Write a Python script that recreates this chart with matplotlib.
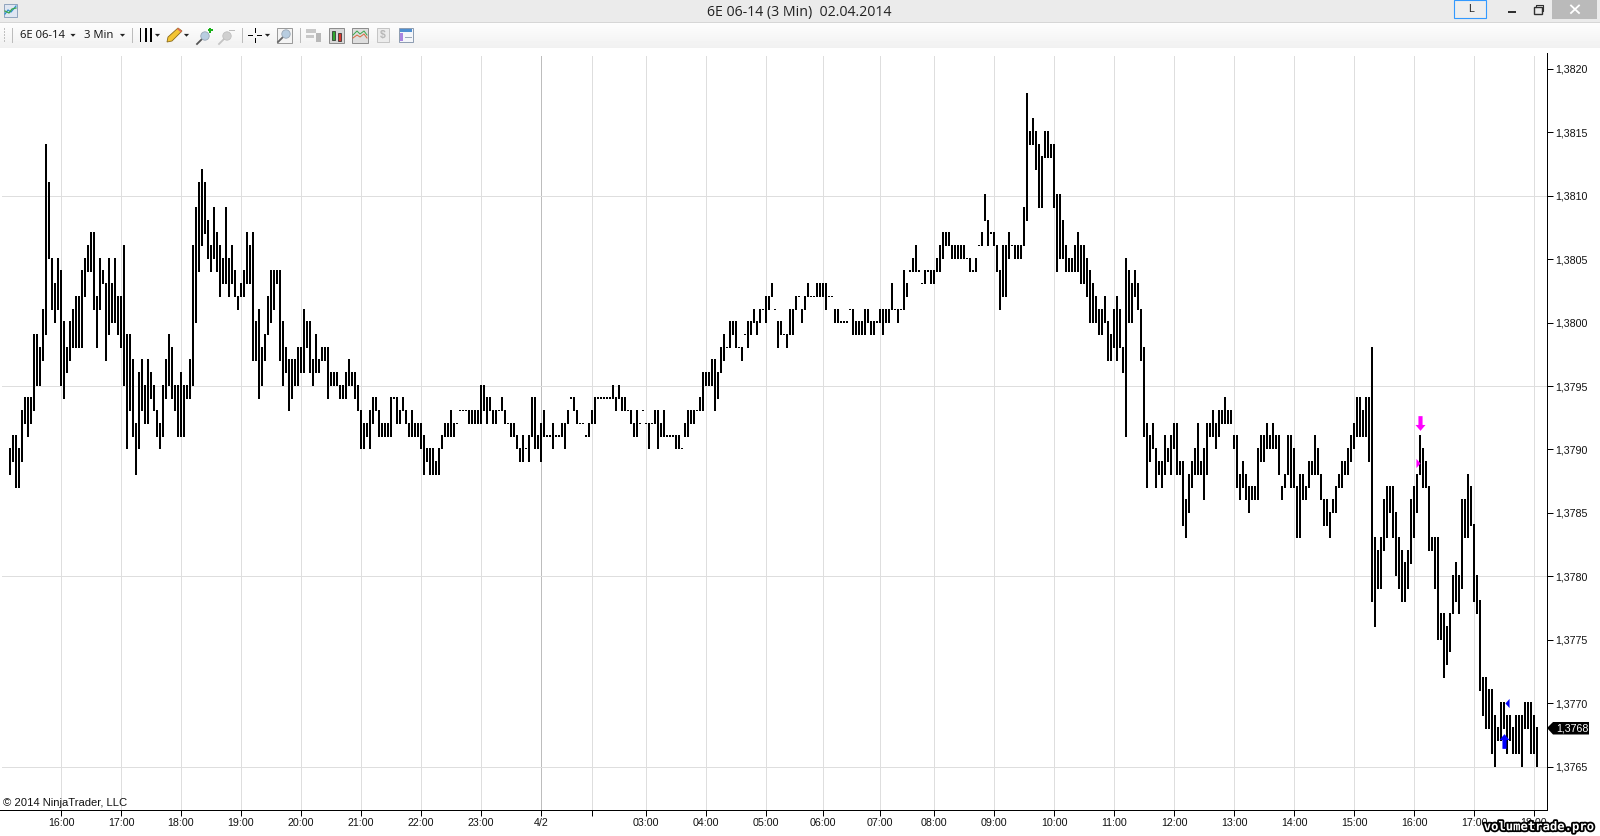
import matplotlib
matplotlib.use("Agg")
import matplotlib.pyplot as plt
import matplotlib.patheffects as pe
from matplotlib.patches import Rectangle, Polygon, Circle
from matplotlib.path import Path
from matplotlib.ticker import FuncFormatter, FixedLocator
import numpy as np

# Bar lows and highs in pips above 1.3700
bar_low = [
 88,89,87,87,89,92,91,92,93,95, 95,97,99,105,101,100,101,95,94,96,
 97,98,98,98,98,102,104,104,101,98, 101,103,97,99,100,100,99,98,95,90,
 93,91,88,90,93,92,92,94,93,91, 90,91,94,95,94,93,91,91,91,94,
 94,95,100,104,106,107,105,104,105,104, 102,103,103,102,103,102,101,102,102,103,
 103,97,97,94,95,97,99,100,101,103, 97,95,96,93,94,95,95,96,96,98,
 96,95,96,96,97,97,94,95,95,95, 94,94,94,95,95,94,93,90,90,91,
 90,92,93,91,91,91,91,91,94,92, 92,93,92,91,91,91,91,90,88,89,
 88,88,88,88,90,91,91,91,91,92, 93,93,93,92,92,92,92,92,93,92,
 93,92,92,93,93,92,92,91,91,90, 89,89,90,89,91,90,90,89,91,91,
 91,90,91,91,91,90,92,94,93,92, 92,92,91,91,92,92,94,94,94,94,
 94,94,93,94,93,93,93,92,91,91, 92,93,92,90,92,92,90,91,91,91,
 91,91,90,90,90,91,91,92,92,93, 93,93,95,95,95,93,94,96,97,98,
 98,99,98,98,97,99,98,99,100,99, 100,101,100,101,102,101,98,99,99,98,
 99,99,101,102,100,101,102,102,102,102, 102,102,101,102,102,100,100,100,100,100,
 101,99,99,99,99,99,100,99,99,100, 100,99,100,100,101,101,100,101,101,102,
 104,104,104,104,103,103,104,103,103,104, 104,105,106,106,105,105,105,105,105,105,
 104,104,104,106,106,108,106,107,106,104, 101,102,102,105,106,105,105,105,106,108,
 114,114,112,109,109,113,113,113,109,104, 105,105,104,104,104,104,104,103,103,102,
 100,100,100,99,99,100,97,97,98,97, 98,96,91,100,100,102,101,97,91,87,
 89,90,87,88,87,88,89,88,90,88, 88,84,83,85,87,88,88,88,86,88,
 91,91,90,91,92,92,92,92,90,87, 86,87,86,85,86,86,86,89,89,90,
 90,90,90,88,86,87,88,87,87,83, 83,86,86,87,88,88,88,86,84,84,
 83,85,85,87,87,88,88,89,90,91, 91,91,91,89,78,76,79,79,82,83,
 85,83,80,79,78,78,79,81,83,85, 88,87,87,82,82,79,75,75,72,73,
 74,77,78,77,79,83,83,84,78,77, 71,69,68,68,66,65,67,67,68,66,
 67,66,66,66,65,68,68,66,66,65,
]
bar_high = [
 90,91,91,90,93,94,94,94,99,99, 98,101,114,111,105,103,105,104,100,98,
 100,101,102,102,104,105,106,107,107,102, 105,104,103,105,103,105,102,102,106,99,
 99,97,92,96,97,95,97,96,95,93, 92,95,97,99,98,95,95,96,95,95,
 97,106,109,111,112,111,108,106,109,107, 106,105,109,105,106,104,102,103,104,107,
 106,107,100,101,98,99,102,104,104,104, 104,100,98,97,97,97,98,98,101,100,
 100,97,99,97,98,98,98,96,96,96, 95,95,96,97,96,96,95,93,92,92,
 93,94,94,93,92,92,92,94,94,94, 93,94,93,92,93,92,92,92,91,90,
 90,90,89,90,91,92,92,93,92,92, 93,93,93,93,93,93,93,95,95,94,
 94,93,93,93,94,93,92,92,92,91, 90,91,90,91,94,94,91,92,93,91,
 91,92,91,91,92,92,93,94,94,93, 92,92,91,92,93,94,94,94,94,94,
 94,95,94,95,94,94,93,93,92,93, 92,93,92,92,92,93,93,92,93,91,
 91,91,91,91,90,92,93,93,93,93, 94,96,96,96,97,97,96,98,99,98,
 100,100,100,98,98,99,100,100,101,100, 101,101,102,102,103,101,100,100,99,99,
 101,101,102,102,101,102,103,102,102,103, 103,103,103,102,102,101,101,100,100,100,
 101,101,100,100,100,101,101,100,100,100, 101,101,101,101,103,101,101,101,104,103,
 104,105,106,104,103,104,104,104,104,105, 106,107,107,107,106,106,106,106,106,105,
 105,104,105,106,107,110,108,107,107,106, 104,106,106,107,106,106,106,106,109,118,
 115,116,115,114,113,115,115,114,114,110, 110,108,106,105,105,106,107,106,106,105,
 104,103,102,101,101,102,100,99,101,102, 101,98,105,104,103,104,103,101,98,92,
 91,92,90,89,89,91,90,91,92,92, 89,89,86,88,89,90,92,89,90,92,
 92,93,92,93,93,94,93,93,91,91, 88,89,88,87,87,87,90,91,91,92,
 91,92,91,91,87,88,91,91,90,87, 88,88,87,89,89,91,90,88,86,86,
 85,86,87,88,89,89,90,91,92,94, 94,93,94,94,98,83,82,83,86,87,
 87,87,85,83,82,81,82,86,87,88, 91,90,89,87,83,83,83,77,77,76,
 77,80,81,80,86,86,88,87,84,80, 78,72,72,71,71,69,68,70,70,69,
 69,68,69,69,69,70,70,70,69,68,
]

# Time axis: bar index of each tick, and its label
time_ticks = [17,37,57,77,97,117,137,157,177,194,212,232,252,271,290,308,328,348,368,388,408,428,448,468,488,508]
time_labels = ["16:00","17:00","18:00","19:00","20:00","21:00","22:00","23:00","4/2","",
               "03:00","04:00","05:00","06:00","07:00","08:00","09:00","10:00","11:00",
               "12:00","13:00","14:00","15:00","16:00","17:00","18:00"]
day_tick = 177

price_ticks = [1.3765,1.3770,1.3775,1.3780,1.3785,1.3790,1.3795,1.3800,1.3805,1.3810,1.3815,1.3820]
price_grid = [1.3765,1.3780,1.3795,1.3810]
last_price = 1.3768

# Execution markers: (bar index, price)
sell_arrow = (470, 1.37921)
sell_entry = (469.2, 1.37889)
buy_arrow = (498.0, 1.37670)
buy_entry = (498.9, 1.37700)

W, H = 1600, 836
fig = plt.figure(figsize=(W/100, H/100), dpi=100, facecolor="white")
plt.rcParams["font.family"] = ["Liberation Sans", "DejaVu Sans"]

AX_L, AX_R, AX_T, AX_B = 0.0, 1546.5, 53.0, 809.5
ax = fig.add_axes([AX_L/W, 1-AX_B/H, (AX_R-AX_L)/W, (AX_B-AX_T)/H])

PX_X = 3.0            # pixels per bar
PX_Y = 12.69          # pixels per pip
Y0 = 766.7            # pixel row of 1.3765
ax.set_xlim((AX_L-10.0)/PX_X, (AX_R-10.0)/PX_X)
ax.set_ylim(1.3765-(AX_B-Y0)/PX_Y/1e4, 1.3765+(Y0-AX_T)/PX_Y/1e4)

grid_c = "#dedede"
grid_top = (AX_B-56.0)/(AX_B-AX_T)
for t in time_ticks:
    ax.axvline(t, ymin=0, ymax=grid_top, color="#bdbdbd" if t == day_tick else grid_c,
               lw=0.72, zorder=1)
for p in price_grid:
    ax.axhline(p, xmin=2/AX_R, xmax=1, color=grid_c, lw=0.72, zorder=1)

# bars
x = np.arange(len(bar_low))
low = 1.37 + np.array(bar_low)/1e4
high = 1.37 + np.array(bar_high)/1e4
pad = 1.3/PX_Y/1e4   # small cap so that flat bars still show as a dot
ax.bar(x, high-low+pad, bottom=low, width=2/PX_X, color="black", linewidth=0, zorder=3)

def mk(verts):
    return Path(verts+[verts[0]], closed=True)

down = mk([(-0.28,1),(0.28,1),(0.28,-0.2),(0.68,-0.2),(0,-1),(-0.68,-0.2),(-0.28,-0.2)])
up = mk([(-0.28,-1),(0.28,-1),(0.28,0.2),(0.68,0.2),(0,1),(-0.68,0.2),(-0.28,0.2)])
right = mk([(-0.45,-1),(-0.45,1),(0.45,0)])
left = mk([(0.45,-1),(0.45,1),(-0.45,0)])
ax.plot(*sell_arrow, marker=down, ms=10.6, color="#ff00ff", mew=0, zorder=5, ls="none")
ax.plot(*sell_entry, marker=right, ms=6.6, color="#ff00ff", mew=0, zorder=5, ls="none")
ax.plot(*buy_arrow, marker=up, ms=10.6, color="#0000ff", mew=0, zorder=5, ls="none")
ax.plot(*buy_entry, marker=left, ms=6.6, color="#0000ff", mew=0, zorder=5, ls="none")

for s in ["top", "left"]:
    ax.spines[s].set_visible(False)
for s in ["bottom", "right"]:
    ax.spines[s].set_linewidth(0.72)
    ax.spines[s].set_color("black")

ax.yaxis.tick_right()
ax.yaxis.set_major_locator(FixedLocator(price_ticks))
ax.yaxis.set_major_formatter(FuncFormatter(lambda v, _: f"{v:.4f}".replace(".", ",")))
ax.xaxis.set_major_locator(FixedLocator(time_ticks))
ax.set_xticklabels(time_labels)
tick_font = 7.68
ax.tick_params(axis="y", length=4.6, width=0.72, pad=1.5, labelsize=tick_font, labelcolor="#111111")
ax.tick_params(axis="x", length=4.2, width=0.72, pad=2.2, labelsize=tick_font, labelcolor="#111111")

# chrome overlay in pixel coordinates
ch = fig.add_axes([0, 0, 1, 1], facecolor="none")
ch.set_xlim(0, W); ch.set_ylim(H, 0); ch.axis("off")

def rect(x0, y0, x1, y1, fc, ec="none", lw=0, z=2):
    ch.add_patch(Rectangle((x0, y0), x1-x0, y1-y0, fc=fc, ec=ec, lw=lw, zorder=z))

def caret(cx, cy=35.2, c="#222222"):
    ch.add_patch(Polygon([(cx-2.6, cy-1.3), (cx+2.6, cy-1.3), (cx, cy+1.5)], fc=c, ec="none", zorder=4))

rect(0, 0, W, 22, "#ebebeb")
rect(0, 22, W, 23, "#d6d6d6")
grad = np.linspace(0.99, 0.945, 25).reshape(-1, 1)
ch.imshow(grad, extent=(0, W, 48, 23), cmap="gray", vmin=0, vmax=1, aspect="auto", zorder=1)
ch.set_xlim(0, W); ch.set_ylim(H, 0)

ch.text(799, 12.8, "6E 06-14 (3 Min)  02.04.2014", ha="center", va="center",
        family="Open Sans", fontsize=10.2, color="#222222", zorder=5)

# app icon
rect(4, 4, 17, 17, "#dfe6f2", ec="#8fa3bd", lw=0.7)
ch.plot([5, 8, 11, 16], [14, 10, 12, 6], color="#2a8fd0", lw=0.9, zorder=4)
ch.plot([5, 9, 12, 16], [11, 13, 9, 8], color="#3aa64a", lw=0.9, zorder=4)

# window controls
rect(1453.7, 0, 1486.3, 18.4, "#eeeeee", ec="#3399ff", lw=0.8)
ch.text(1471, 8.5, "L", ha="center", va="center", family="Liberation Sans", fontsize=7.7, color="#222222", zorder=5)
rect(1508, 11, 1516, 13, "#303030")
rect(1533.5, 6.5, 1541.5, 13.5, "none", ec="#303030", lw=1, z=4)
ch.plot([1536, 1536, 1543, 1543, 1541.5], [6.5, 4.5, 4.5, 11, 11], color="#303030", lw=0.8, zorder=4)
rect(1552, 0, 1597, 19, "#bababa")
ch.plot([1571, 1579], [5.5, 13], color="white", lw=1.3, zorder=4)
ch.plot([1579, 1571], [5.5, 13], color="white", lw=1.3, zorder=4)

# toolbar
for yy in (28, 31, 34, 37, 40):
    rect(3.5, yy, 5, yy+1.5, "#c0c0c0", z=4)
for sx in (12, 132, 242, 300):
    rect(sx, 28, sx+0.8, 43, "#bcbcbc", z=4)
ch.text(20, 35, "6E 06-14", ha="left", va="center", family="Open Sans", fontsize=8.1, color="#111111", zorder=5)
ch.text(84, 35, "3 Min", ha="left", va="center", family="Open Sans", fontsize=8.1, color="#111111", zorder=5)
for cx in (73, 122.5, 157.5, 186.5, 267.5):
    caret(cx)
for bx in (139.5, 145, 150):
    rect(bx, 28, bx+1.7, 42, "black", z=4)
# pencil
ch.add_patch(Polygon([(167, 42), (168, 37), (178, 28), (182, 31), (172, 41)], fc="#f4c534", ec="#8a6a1a", lw=0.6, zorder=4))
ch.add_patch(Polygon([(177, 29), (178, 28), (182, 31), (181, 32.5)], fc="#e06a5a", ec="none", zorder=5))
# zoom icons
def magnifier(cx, cy, fc, ec, handle):
    ch.plot([cx-3, cx-8], [cy+3, cy+8], color=handle, lw=1.3, zorder=4)
    ch.add_patch(Circle((cx, cy), 4.2, fc=fc, ec=ec, lw=0.6, zorder=5))
magnifier(205, 36, "#b8cde0", "#9aa8b6", "#555555")
rect(207.5, 29.2, 212.8, 31, "#18b018", z=6); rect(209.3, 27.5, 211, 32.8, "#18b018", z=6)
magnifier(227, 36, "#d0d0d0", "#c0c0c0", "#c4c4c4")
rect(229, 30, 235, 31, "#bdbdbd", z=6)
# crosshair
for a in ((248, 34.7, 253, 36), (257, 34.7, 262, 36), (254.6, 28, 256, 33), (254.6, 37.5, 256, 42.5)):
    rect(*a, "black", z=4)
rect(277, 27.5, 292, 42.5, "#f4f4f4", ec="#999999", lw=0.7, z=3)
magnifier(286, 34, "#b8cde0", "#9aa8b6", "#666666")
# strategy / indicators icons
rect(306, 29, 316, 33, "#c8c8c8", z=4); rect(306, 35, 314, 38, "#c8c8c8", z=4)
rect(316, 33, 321, 42, "#b8b8b8", z=4)
rect(329, 27.5, 344, 42.5, "#d8d8d8", ec="#8c8c8c", lw=0.7, z=3)
rect(332, 31, 335, 40, "#2fa52f", ec="#222222", lw=0.5, z=4)
rect(338, 33, 341, 41, "#d8392f", ec="#222222", lw=0.5, z=4)
rect(352, 27.5, 368, 42.5, "#dedede", ec="#8c8c8c", lw=0.7, z=3)
ch.plot([353, 357, 360, 364, 367], [35, 31, 34, 31, 35], color="#3aa64a", lw=0.7, zorder=4)
ch.plot([353, 357, 360, 364, 367], [38, 35, 37, 34, 38], color="#d8693f", lw=0.7, zorder=4)
rect(377, 28, 389, 42, "#ececec", ec="#c4c4c4", lw=0.7, z=3)
ch.text(383, 35, "$", ha="center", va="center", fontsize=7.5, weight="bold", color="#b8b8b8", zorder=5)
rect(399, 28, 413, 42, "#f4f6fa", ec="#8c9cb0", lw=0.7, z=3)
rect(400, 29, 412, 32, "#4f8fd0", z=4)
rect(400, 33, 403, 41, "#a884e0", z=4)
for yy in (34.5, 37, 39.5):
    rect(405, yy, 411.5, yy+0.8, "#9aa8b8", z=4)

# copyright
ch.text(3, 803, "\u00a9 2014 NinjaTrader, LLC", ha="left", va="center",
        family="Liberation Sans", fontsize=8.1, color="#111111", zorder=5)

# last price tag
ch.add_patch(Polygon([(1547, 728), (1553, 722), (1589, 722), (1589, 734.5), (1553, 734.5)], fc="black", ec="none", zorder=6))
ch.text(1556, 728.3, f"{last_price:.4f}".replace(".", ","), ha="left", va="center", family="Liberation Sans",
        fontsize=7.68, color="white", zorder=7)

# watermark
ch.text(1539, 826.8, "volumetrade.pro", ha="center", va="center", family="DejaVu Sans Mono", weight="bold",
        fontsize=8.8, color="white", zorder=8,
        path_effects=[pe.withStroke(linewidth=2.6, foreground="black")])

fig.savefig("out.png", dpi=100, facecolor="white")
